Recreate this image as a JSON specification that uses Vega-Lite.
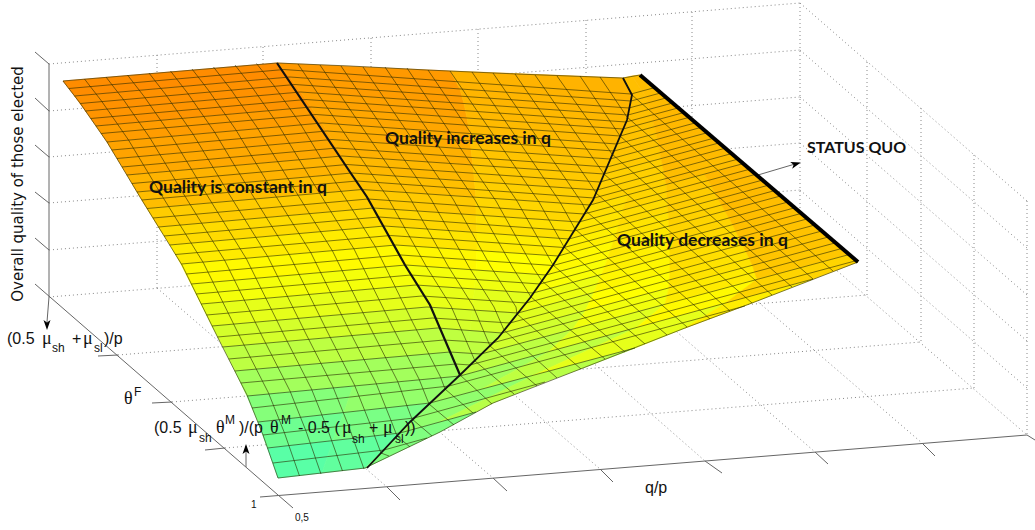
{"$schema":"https://vega.github.io/schema/vega-lite/v6.json","width":1035,"height":530,"padding":0,"autosize":"none","background":"white","config":{"view":{"stroke":null}},
"datasets":{
"frame":[
{"u":[49,800],"v":[64,3]},{"u":[49,800],"v":[111,50]},{"u":[49,800],"v":[157,97]},{"u":[49,800],"v":[203,143]},{"u":[49,800],"v":[250,190]},{"u":[49,798],"v":[297,237]},
{"u":[157,157],"v":[55,288]},{"u":[263,263],"v":[47,280]},{"u":[371,371],"v":[38,271]},{"u":[478,478],"v":[29,262]},{"u":[586,586],"v":[20,253]},{"u":[692,692],"v":[12,245]},{"u":[800,800],"v":[3,237]},
{"u":[800,1027],"v":[3,201]},{"u":[800,1027],"v":[50,248]},{"u":[800,1027],"v":[97,295]},{"u":[800,1027],"v":[143,341]},{"u":[800,1027],"v":[190,388]},
{"u":[867,867],"v":[62,295]},{"u":[921,921],"v":[108,342]},{"u":[974,974],"v":[155,388]},{"u":[1027,1027],"v":[201,435]},
{"u":[798,1027],"v":[237,435]},{"u":[118,867],"v":[355,295]},{"u":[172,921],"v":[402,342]},{"u":[225,974],"v":[448,388]},
{"u":[157,387],"v":[288,487]},{"u":[263,493],"v":[280,478]},{"u":[371,600],"v":[271,469]},{"u":[478,705],"v":[262,461]},{"u":[586,815],"v":[253,452]},{"u":[692,922],"v":[245,443]}],
"axes":[
{"u":[49,49],"v":[64,297]},{"u":[35,293],"v":[284,508]},{"u":[260,1027],"v":[497,435]},
{"u":[35,49],"v":[52,64]},{"u":[35,49],"v":[98,111]},{"u":[35,49],"v":[145,157]},{"u":[35,49],"v":[192,203]},{"u":[35,49],"v":[238,250]},
{"u":[118,98],"v":[355,356]},{"u":[172,152],"v":[402,403]},{"u":[225,205],"v":[448,450]},
{"u":[387,400],"v":[487,500]},{"u":[493,507],"v":[478,491]},{"u":[600,613],"v":[469,482]},{"u":[705,722],"v":[461,473]},{"u":[815,828],"v":[452,464]},{"u":[922,935],"v":[443,456]},{"u":[1027,1035],"v":[435,440]},
{"u":[49,47],"v":[297,322]},{"u":[246,246],"v":[467,450]},{"u":[758,795],"v":[175,164]}],
"patch":[
{"c":145,"u":[63,277,290,74.6],"v":[81,63,77,96]},{"c":143,"u":[74.6,290,300.5,85.5],"v":[96,77,92,111]},{"c":142,"u":[85.5,300.5,311,96],"v":[111,92,107,126]},{"c":139,"u":[96,311,322,107],"v":[126,107,123,142]},{"c":136,"u":[107,322,332,117],"v":[142,123,139.5,158.5]},{"c":134,"u":[117,332,342,127],"v":[158.5,139.5,156,175]},{"c":130,"u":[127,342,352,137],"v":[175,156,173,192]},{"c":126,"u":[137,352,362,147],"v":[192,173,189.5,208.5]},{"c":120,"u":[147,362,373.5,158.5],"v":[208.5,189.5,208,227]},{"c":114,"u":[158.5,373.5,384.5,170],"v":[227,208,226,245]},{"c":108,"u":[170,384.5,396,181],"v":[245,226,245,264]},{"c":102,"u":[181,396,406,191],"v":[264,245,265,284]},{"c":96,"u":[191,406,416,201],"v":[284,265,285,304]},{"c":90,"u":[201,416,427,212],"v":[304,285,307,326]},{"c":83,"u":[212,427,437.5,223],"v":[326,307,328,347]},{"c":74,"u":[223,437.5,450,235],"v":[347,328,352,371]},{"c":64,"u":[235,450,460,247],"v":[371,352,376,396]},
{"c":140,"u":[277,450,460,290],"v":[63,71,89,77]},{"c":139,"u":[290,460,464,300.5],"v":[77,89,103.5,92]},{"c":137,"u":[300.5,464,467,311],"v":[92,103.5,118,107]},{"c":135,"u":[311,467,470,322],"v":[107,118,133.5,123]},{"c":133,"u":[322,470,471,332],"v":[123,133.5,149,139.5]},{"c":131,"u":[332,471,473,342],"v":[139.5,149,165,156]},{"c":128,"u":[342,473,474.5,352],"v":[156,165,181.5,173]},{"c":125,"u":[352,474.5,476,362],"v":[173,181.5,197,189.5]},{"c":121,"u":[362,476,476,373.5],"v":[189.5,197,215,208]},{"c":116,"u":[373.5,476,477,384.5],"v":[208,215,232.5,226]},{"c":110,"u":[384.5,477,477,396],"v":[226,232.5,250.5,245]},{"c":103,"u":[396,477,476,406],"v":[245,250.5,270,265]},{"c":96,"u":[406,476,474.5,416],"v":[265,270,289,285]},{"c":91,"u":[416,474.5,472.5,427],"v":[285,289,310,307]},{"c":84,"u":[427,472.5,470,437.5],"v":[307,310,330.5,328]},{"c":75,"u":[437.5,470,465.5,450],"v":[328,330.5,353,352]},
{"c":130,"u":[450,623,632,631,460],"v":[71,78,95,101,89]},{"c":129,"u":[460,631,628,464],"v":[89,101,115,103.5]},{"c":128,"u":[464,628,623,467],"v":[103.5,115,129,118]},{"c":127,"u":[467,623,617,470],"v":[118,129,144,133.5]},{"c":125,"u":[470,617,610,471],"v":[133.5,144,159,149]},{"c":123,"u":[471,610,604,473],"v":[149,159,174,165]},{"c":121,"u":[473,604,597,474.5],"v":[165,174,190,181.5]},{"c":119,"u":[474.5,597,590,476],"v":[181.5,190,205,197]},{"c":116,"u":[476,590,579,476],"v":[197,205,222,215]},{"c":112,"u":[476,579,569,477],"v":[215,222,239,232.5]},{"c":107,"u":[477,569,558,477],"v":[232.5,239,256,250.5]},{"c":100,"u":[477,558,546,476],"v":[250.5,256,275,270]},{"c":94,"u":[476,546,533,474.5],"v":[270,275,293,289]},{"c":89,"u":[474.5,533,518,472.5],"v":[289,293,313,310]},{"c":83,"u":[472.5,518,502,470],"v":[310,313,333,330.5]},{"c":75,"u":[470,502,481,465.5],"v":[330.5,333,354,353]},
{"c":125,"u":[623,632,646,631,632],"v":[78,76,97,101,95]},{"c":125,"u":[631,646,650,628],"v":[101,97,109,115]},{"c":125,"u":[628,650,653,623],"v":[115,109,121,129]},{"c":124,"u":[623,653,656,617],"v":[129,121,133,144]},{"c":123,"u":[617,656,659,610],"v":[144,133,146,159]},{"c":121,"u":[610,659,661,604],"v":[159,146,158,174]},{"c":119,"u":[604,661,664,597],"v":[174,158,172,190]},{"c":118,"u":[597,664,666,590],"v":[190,172,184,205]},
{"c":126,"u":[632,640,661,646],"v":[76,75,93,97]},{"c":127,"u":[646,661,673,650],"v":[97,93,103,109]},{"c":128,"u":[650,673,684,653],"v":[109,103,113,121]},{"c":128,"u":[653,684,696,656],"v":[121,113,123,133]},{"c":128,"u":[656,696,707,659],"v":[133,123,133,146]},{"c":127,"u":[659,707,719,661],"v":[146,133,143,158]},{"c":127,"u":[661,719,732,664],"v":[158,143,154,172]},{"c":126,"u":[664,732,743,666],"v":[172,154,164,184]},
{"c":113,"u":[590,628,623,579],"v":[205,194.5,210,222]},{"c":110,"u":[579,623,618.5,569],"v":[222,210,225.5,239]},{"c":106,"u":[569,618.5,613.5,558],"v":[239,225.5,241,256]},{"c":102,"u":[558,613.5,608,546],"v":[256,241,258,275]},{"c":98,"u":[546,608,601.5,533],"v":[275,258,274.5,293]},{"c":93,"u":[533,601.5,594,518],"v":[293,274.5,292.5,313]},{"c":88,"u":[518,594,585.5,502],"v":[313,292.5,310.5,333]},{"c":82,"u":[502,585.5,573,481],"v":[333,310.5,329,354]},
{"c":117,"u":[628,666,667,623],"v":[194.5,184,198,210]},{"c":114,"u":[623,667,668,618.5],"v":[210,198,212,225.5]},{"c":111,"u":[618.5,668,669,613.5],"v":[225.5,212,226,241]},{"c":109,"u":[613.5,669,670,608],"v":[241,226,241,258]},{"c":106,"u":[608,670,670,601.5],"v":[258,241,256,274.5]},{"c":103,"u":[601.5,670,670,594],"v":[274.5,256,272,292.5]},{"c":100,"u":[594,670,669,585.5],"v":[292.5,272,288,310.5]},{"c":95,"u":[585.5,669,665,573],"v":[310.5,288,304,329]},
{"c":122,"u":[666,704.5,711.5,667],"v":[184,174,186,198]},{"c":120,"u":[667,711.5,718,668],"v":[198,186,198.5,212]},{"c":118,"u":[668,718,725,669],"v":[212,198.5,211,226]},{"c":117,"u":[669,725,732.5,670],"v":[226,211,224.5,241]},{"c":115,"u":[670,732.5,739,670],"v":[241,224.5,237.5,256]},{"c":113,"u":[670,739,746,670],"v":[256,237.5,251.5,272]},{"c":111,"u":[670,746,752.5,669],"v":[272,251.5,265.5,288]},{"c":108,"u":[669,752.5,757,665],"v":[288,265.5,279,304]},
{"c":128,"u":[704.5,743,756,711.5],"v":[174,164,174,186]},{"c":127,"u":[711.5,756,768,718],"v":[186,174,185,198.5]},{"c":127,"u":[718,768,781,725],"v":[198.5,185,196,211]},{"c":126,"u":[725,781,795,732.5],"v":[211,196,208,224.5]},{"c":125,"u":[732.5,795,808,739],"v":[224.5,208,219,237.5]},{"c":124,"u":[739,808,822,746],"v":[237.5,219,231,251.5]},{"c":123,"u":[746,822,836,752.5],"v":[251.5,231,243,265.5]},{"c":122,"u":[752.5,836,849,757],"v":[265.5,243,254.5,279]},
{"c":70,"u":[450,481,460],"v":[352,354,376]},{"c":74,"u":[481,573,548,460],"v":[354,329,352,376]},{"c":88,"u":[573,665,636,548],"v":[329,304,328,352]},{"c":102,"u":[665,757,725,636],"v":[304,279,303.5,328]},{"c":117,"u":[757,849,858,813,725],"v":[279,254.5,262,279,303.5]},
{"c":52,"u":[247,353,344,258],"v":[396,386,412.5,422]},{"c":58,"u":[353,460,430,344],"v":[386,376,403,412.5]},{"c":64,"u":[460,548,481,430],"v":[376,352,389.5,403]},{"c":75,"u":[548,636,532,481],"v":[352,328,376,389.5]},{"c":90,"u":[636,725,685,635,583.5,532],"v":[328,303.5,328,348,362,376]},{"c":107,"u":[725,813,752,685],"v":[303.5,279,303,328]},
{"c":43,"u":[258,344,333,267.5],"v":[422,412.5,440.5,448]},{"c":48,"u":[344,430,400,333],"v":[412.5,403,433,440.5]},{"c":57,"u":[430,532,438,400],"v":[403,376,422.5,433]},{"c":72,"u":[532,635,583,545,493,476,438],"v":[376,348,368,382,403,412,422.5]},
{"c":35,"u":[267.5,333,322,278],"v":[448,440.5,473,478]},{"c":38,"u":[333,400,365,322],"v":[440.5,433,468,473]},{"c":50,"u":[400,438,476,440,365],"v":[433,422.5,412,432,468]}],
"mesh":[
{"u":[63,277,350,427,517,623,640],"v":[81,63,66,70,74,78,75]},
{"u":[68.8,284,631,654.7],"v":[88.5,69.5,94,87.6]},{"u":[74.6,290,631,660.9],"v":[96,77,101,92.9]},{"u":[80.3,295,629,666.6],"v":[103.5,84.5,108,97.8]},{"u":[85.5,300.5,628,672.6],"v":[111,92,115,103]},{"u":[90.7,306,626,678.3],"v":[118.5,99.5,122,107.9]},{"u":[95.9,311,623,683.8],"v":[126,107,129,112.6]},{"u":[101.1,316,620,689.3],"v":[133.5,114.5,136,117.3]},{"u":[107,322,617,695.7],"v":[142,123,144,122.8]},{"u":[111.8,327,614,701.1],"v":[150,131,151,127.4]},{"u":[116.9,332,610,707.3],"v":[158.5,139.5,159,132.7]},{"u":[122,337,607,713.7],"v":[167,148,167,138.2]},{"u":[126.8,342,604,719.1],"v":[175,156,174,142.9]},{"u":[131.9,347,600,725.3],"v":[183.5,164.5,182,148.2]},{"u":[137,352,597,731.6],"v":[192,173,190,153.6]},{"u":[141.9,357,594,738],"v":[200,181,198,159.1]},{"u":[147.1,362,590,743.3],"v":[208.5,189.5,205,163.6]},{"u":[153,368,584,749.8],"v":[218,199,214,169.2]},{"u":[158.5,373.5,579,755.7],"v":[227,208,222,174.3]},{"u":[164,379,574,762.5],"v":[236,217,231,180.1]},{"u":[169.6,384.5,569,768.4],"v":[245,226,239,185.2]},{"u":[175.5,390.5,564,774.7],"v":[254.5,235.5,247.5,190.6]},{"u":[181.4,396,558,780.9],"v":[264,245,256,195.9]},{"u":[186.4,401,553,788],"v":[274,255,265.5,202]},{"u":[191.4,406,546,794.8],"v":[284,265,275,207.8]},{"u":[196.3,411,540,801.3],"v":[294,275,284,213.4]},{"u":[201.2,416,533,807.6],"v":[304,285,293,218.8]},{"u":[206.7,422,526,814.8],"v":[315,296,303,225]},{"u":[212.1,427,518,821.8],"v":[326,307,313,231]},{"u":[217.5,432.5,510,828.7],"v":[337,318,323,236.9]},{"u":[222.6,437.5,502,835.6],"v":[347,328,333,242.8]},{"u":[228.7,444,492,842.1],"v":[359,340,343,248.4]},{"u":[234.8,450,481,849.3],"v":[371,352,354,254.5]},{"u":[240.9,456,470,856.4],"v":[383,364,365,260.6]},
{"u":[247.4,460,813],"v":[396,376,279]},{"u":[252,449,745],"v":[408,386,306]},{"u":[258,430,635],"v":[422,403,348]},{"u":[263,414,545],"v":[435,418,382]},{"u":[267.5,400,476],"v":[448,433,412]},{"u":[273,384,427],"v":[463,450,438]},
{"u":[278,365,440,493,583,685,752,858],"v":[478,468,432,403,368,328,303,262]},
{"u":[63,80,107,140,182,220,247,263,278],"v":[81,103,142,197,265,342,395,435,478]},
{"u":[84.5,101.5,128.5,161.5,203.5,241.5,268.5,284.5,299.5],"v":[79,101,140,195,263,340,393,433,476]},
{"u":[106,123,150,183,225,263,290,306,321],"v":[77,99,138,193,261,338,391,431,474]},
{"u":[127.5,144.5,171.5,204.5,246.5,284.5,311.5,327.5,342.5],"v":[75,97,136,191,259,336,389,429,471]},
{"u":[149,166,193,226,268,306,333,349,364],"v":[73,95,134,189,257,334,387,427,469]},
{"u":[170.5,187.5,214.5,247.5,289.5,327.5,354.5,370.5,381,389],"v":[71,93,132,187,255,332,385,425,453,456]},
{"u":[192,209,236,269,311,349,376,392,397,410],"v":[69,91,130,185,253,330,383,423,436,447]},
{"u":[213.5,230.5,257.5,290.5,332.5,370.5,397.5,412,432],"v":[67,89,128,183,251,328,381,419,436]},
{"u":[235,252,279,312,354,392,419,429,454],"v":[65,87,126,181,249,326,379,404,425]},
{"u":[256.5,273.5,300.5,333.5,375.5,413.5,440.5,445,473],"v":[63.5,85,124,179,247,324,377,389,413]},
{"u":[460,492],"v":[375,404]},
{"u":[298,371,388,426,451,475,514],"v":[64,173,198,266,306,361,394]},
{"u":[320,393,410,448,473,490,537],"v":[65,173,198,266,306,346,386]},
{"u":[341,414,431,469,494,504,557],"v":[66,174,199,267,307,330,378]},
{"u":[363,436,453,491,516,517,581],"v":[67,174,199,267,307,314,369]},
{"u":[385,458,475,513,531,605],"v":[67,175,200,268,297,359]},
{"u":[407,479,496,534,542,625],"v":[68,176,201,269,281,352]},
{"u":[428,500,517,553,645],"v":[70,176,201,265,344]},
{"u":[450,522,539,564,667],"v":[71,177,202,247,335]},
{"u":[472,543,560,575,687],"v":[72,177,202,229,327]},
{"u":[493,565,582,586,710],"v":[73,178,203,211,319]},
{"u":[515,587,596,730],"v":[74,179,193,311]},
{"u":[535,604,752],"v":[75,174,303]},
{"u":[557,612,772],"v":[76,154,295]},
{"u":[580,620,792],"v":[76,136,287]},
{"u":[600,627,813],"v":[77,117,279]},
{"u":[623,632,833],"v":[78,95,271]}]
},
"encoding":{"x":{"field":"u","type":"quantitative","axis":null,"scale":{"domain":[0,1035],"nice":false,"zero":false}},"y":{"field":"v","type":"quantitative","axis":null,"scale":{"domain":[530,0],"nice":false,"zero":false}}},
"layer":[
{"data":{"name":"frame"},"transform":[{"window":[{"op":"row_number","as":"id"}]},{"flatten":["u","v"]},{"window":[{"op":"row_number","as":"o"}]}],"mark":{"type":"line","stroke":"#888","strokeWidth":1,"strokeDash":[1,3]},"encoding":{"detail":{"field":"id","type":"nominal"},"order":{"field":"o","type":"quantitative"}}},
{"data":{"name":"axes"},"transform":[{"window":[{"op":"row_number","as":"id"}]},{"flatten":["u","v"]},{"window":[{"op":"row_number","as":"o"}]}],"mark":{"type":"line","stroke":"#666","strokeWidth":1},"encoding":{"detail":{"field":"id","type":"nominal"},"order":{"field":"o","type":"quantitative"}}},
{"data":{"name":"patch"},"transform":[{"window":[{"op":"row_number","as":"id"}]},{"flatten":["u","v"]},{"window":[{"op":"row_number","as":"o"}]}],"mark":{"type":"line","interpolate":"linear-closed","strokeWidth":0.7},"encoding":{"detail":{"field":"id","type":"nominal"},"order":{"field":"o","type":"quantitative"},
"fill":{"field":"c","type":"quantitative","legend":null,"scale":{"domain":[0,100,200],"range":["#00ffff","#ffff00","#ff0000"],"interpolate":"rgb"}},
"stroke":{"field":"c","type":"quantitative","legend":null,"scale":{"domain":[0,100,200],"range":["#00ffff","#ffff00","#ff0000"],"interpolate":"rgb"}}}},
{"data":{"name":"mesh"},"transform":[{"window":[{"op":"row_number","as":"id"}]},{"flatten":["u","v"]},{"window":[{"op":"row_number","as":"o"}]}],"mark":{"type":"line","stroke":"#2a2a00","strokeWidth":0.8,"opacity":0.75},"encoding":{"detail":{"field":"id","type":"nominal"},"order":{"field":"o","type":"quantitative"}}},
{"data":{"values":[{"u":[277,350,367,405,430,460],"v":[63,172,197,265,305,375]}]},"transform":[{"flatten":["u","v"]},{"window":[{"op":"row_number","as":"o"}]}],"mark":{"type":"line","stroke":"#111","strokeWidth":2.2},"encoding":{"order":{"field":"o","type":"quantitative"}}},
{"data":{"values":[{"u":[623,632,627,593,553,530,498,460,410,367],"v":[78,95,120,200,265,298,338,375,422,468]}]},"transform":[{"flatten":["u","v"]},{"window":[{"op":"row_number","as":"o"}]}],"mark":{"type":"line","stroke":"#111","strokeWidth":1.8},"encoding":{"order":{"field":"o","type":"quantitative"}}},
{"data":{"values":[{"u":[640,858],"v":[75,262]}]},"transform":[{"flatten":["u","v"]},{"window":[{"op":"row_number","as":"o"}]}],"mark":{"type":"line","stroke":"#000","strokeWidth":4},"encoding":{"order":{"field":"o","type":"quantitative"}}},
{"data":{"values":[{"u":47,"v":325}]},"mark":{"type":"point","shape":"M0,-1L0.7,1L0,0.5L-0.7,1Z","filled":true,"color":"#000","opacity":1,"size":100,"angle":180}},
{"data":{"values":[{"u":246,"v":449}]},"mark":{"type":"point","shape":"M0,-1L0.7,1L0,0.5L-0.7,1Z","filled":true,"color":"#000","opacity":1,"size":100,"angle":0}},
{"data":{"values":[{"u":796,"v":164}]},"mark":{"type":"point","shape":"M0,-1L0.7,1L0,0.5L-0.7,1Z","filled":true,"color":"#000","opacity":1,"size":100,"angle":74}},
{"data":{"values":[{"u":18,"v":184,"t":"Overall quality of those elected"}]},"mark":{"type":"text","font":"DejaVu Sans","fontSize":15,"angle":270,"align":"center","baseline":"middle","color":"#111"},"encoding":{"text":{"field":"t"}}},
{"data":{"values":[{"u":149,"v":193,"t":"Quality is constant in q"},{"u":385,"v":144,"t":"Quality increases in q"},{"u":617,"v":246,"t":"Quality decreases in q"}]},"mark":{"type":"text","font":"Lato","fontWeight":"bold","fontSize":17.5,"align":"left","baseline":"alphabetic","color":"#111"},"encoding":{"text":{"field":"t"}}},
{"data":{"values":[{"u":807,"v":153,"t":"STATUS QUO"}]},"mark":{"type":"text","font":"Lato","fontWeight":"bold","fontSize":16,"align":"left","baseline":"alphabetic","color":"#111"},"encoding":{"text":{"field":"t"}}},
{"data":{"values":[{"u":7,"v":344,"t":"(0.5"},{"u":72,"v":344,"t":"+"},{"u":104,"v":344,"t":")/p"},{"u":154,"v":433,"t":"(0.5"},{"u":239,"v":433,"t":")/(p"},{"u":298,"v":433,"t":"- 0.5 ("},{"u":369,"v":433,"t":"+"},{"u":405,"v":433,"t":"))"},{"u":645,"v":493,"t":"q/p"}]},"mark":{"type":"text","font":"Liberation Sans","fontSize":16,"align":"left","baseline":"alphabetic","color":"#111"},"encoding":{"text":{"field":"t"}}},
{"data":{"values":[{"u":52,"v":352,"t":"sh"},{"u":94,"v":352,"t":"sl"},{"u":134,"v":396,"t":"F"},{"u":199,"v":442,"t":"sh"},{"u":225,"v":424,"t":"M"},{"u":281,"v":424,"t":"M"},{"u":352,"v":443,"t":"sh"},{"u":395,"v":443,"t":"sl"}]},"mark":{"type":"text","font":"Liberation Sans","fontSize":12,"align":"left","baseline":"alphabetic","color":"#111"},"encoding":{"text":{"field":"t"}}},
{"data":{"values":[{"u":42,"v":344,"t":"μ"},{"u":83,"v":344,"t":"μ"},{"u":124,"v":404,"t":"θ"},{"u":188,"v":433,"t":"μ"},{"u":216,"v":433,"t":"θ"},{"u":270,"v":433,"t":"θ"},{"u":342,"v":433,"t":"μ"},{"u":383,"v":433,"t":"μ"}]},"mark":{"type":"text","font":"Liberation Serif","fontSize":18,"align":"left","baseline":"alphabetic","color":"#111"},"encoding":{"text":{"field":"t"}}},
{"data":{"values":[{"u":251,"v":508,"t":"1"},{"u":295,"v":521,"t":"0,5"}]},"mark":{"type":"text","font":"Liberation Sans","fontSize":10,"align":"left","baseline":"alphabetic","color":"#111"},"encoding":{"text":{"field":"t"}}}
]}
